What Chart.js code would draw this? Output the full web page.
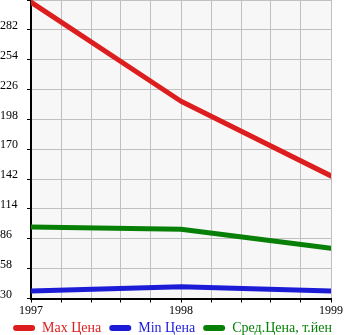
<!DOCTYPE html>
<html>
<head>
<meta charset="utf-8">
<script src="https://cdn.jsdelivr.net/npm/chart.js@4"></script>
<style>
  html, body { margin: 0; padding: 0; background: #fff; }
  #wrap { width: 345px; height: 335px; }
</style>
</head>
<body>
<div id="wrap"><canvas id="priceChart"></canvas></div>
<script>
// Data
const years = [1997, 1998, 1999];
const maxPrice = [308, 215, 145];
const minPrice = [37, 41, 37];
const avgPrice = [97, 95, 77];
const seriesNames = ['Max Цена', 'Min Цена', 'Сред.Цена, т.йен'];
const yTicks = [30, 58, 86, 114, 142, 170, 198, 226, 254, 282, 310];

const colors = ['#dc1e1e', '#1c1cd6', '#088008'];
const toPoints = arr => arr.map((v, i) => ({ x: years[i], y: v }));

Chart.defaults.font.family = "'Liberation Serif', serif";
Chart.defaults.color = '#000';

const plotBg = {
  id: 'plotBg',
  beforeDraw(chart) {
    const { ctx, chartArea: a } = chart;
    ctx.save();
    ctx.fillStyle = '#f7f7f7';
    ctx.fillRect(a.left, a.top, a.right - a.left, a.bottom - a.top);
    ctx.restore();
  },
  // x labels overlap the legend box, so don't clip them at the axis bottom
  afterLayout(chart) {
    chart.scales.x.bottom = chart.height;
  }
};

const line = (label, data, color) => ({
  label, data: toPoints(data),
  borderColor: color, backgroundColor: color,
  borderWidth: 5, tension: 0, pointRadius: 0,
  borderCapStyle: 'round', borderJoinStyle: 'round'
});

new Chart(document.getElementById('priceChart'), {
  type: 'line',
  data: {
    datasets: [
      line(seriesNames[0], maxPrice, colors[0]),
      line(seriesNames[1], minPrice, colors[1]),
      line(seriesNames[2], avgPrice, colors[2])
    ]
  },
  options: {
    responsive: true,
    maintainAspectRatio: false,
    animation: false,
    layout: { padding: { top: 0, right: 0, bottom: -10, left: 0 } },
    plugins: {
      tooltip: { enabled: false },
      legend: {
        position: 'bottom',
        labels: {
          font: { size: 14 },
          boxWidth: 22,
          boxHeight: 6,
          padding: 8,
          generateLabels: chart => chart.data.datasets.map((ds, i) => ({
            text: ds.label,
            fillStyle: ds.borderColor,
            strokeStyle: ds.borderColor,
            fontColor: ds.borderColor,
            lineWidth: 0,
            borderRadius: 3,
            datasetIndex: i
          }))
        }
      }
    },
    scales: {
      x: {
        type: 'linear',
        min: years[0],
        max: years[years.length - 1],
        afterFit: s => { s.height = 14.5; s.paddingLeft = 0; s.paddingRight = 14; },
        ticks: {
          stepSize: 0.2,
          autoSkip: false,
          maxRotation: 0,
          padding: 1,
          font: { size: 12 },
          callback: v => Math.abs(v - Math.round(v)) < 1e-6 ? String(Math.round(v)) : ''
        },
        grid: { color: '#c0c0c0', tickColor: '#000', tickLength: 4 },
        border: { color: '#000', width: 2 }
      },
      y: {
        min: yTicks[0],
        max: yTicks[yTicks.length - 1],
        afterBuildTicks: s => { s.ticks = yTicks.map(v => ({ value: v })); },
        afterFit: s => { s.width = 31; s.paddingTop = 0; s.paddingBottom = 0; },
        ticks: {
          crossAlign: 'far',
          labelOffset: -4,
          font: { size: 12 },
          callback: v => v === yTicks[yTicks.length - 1] ? '' : String(v)
        },
        grid: { color: '#c0c0c0', tickColor: '#000', tickLength: 4 },
        border: { color: '#000', width: 2 }
      }
    }
  },
  plugins: [plotBg]
});
</script>
</body>
</html>
